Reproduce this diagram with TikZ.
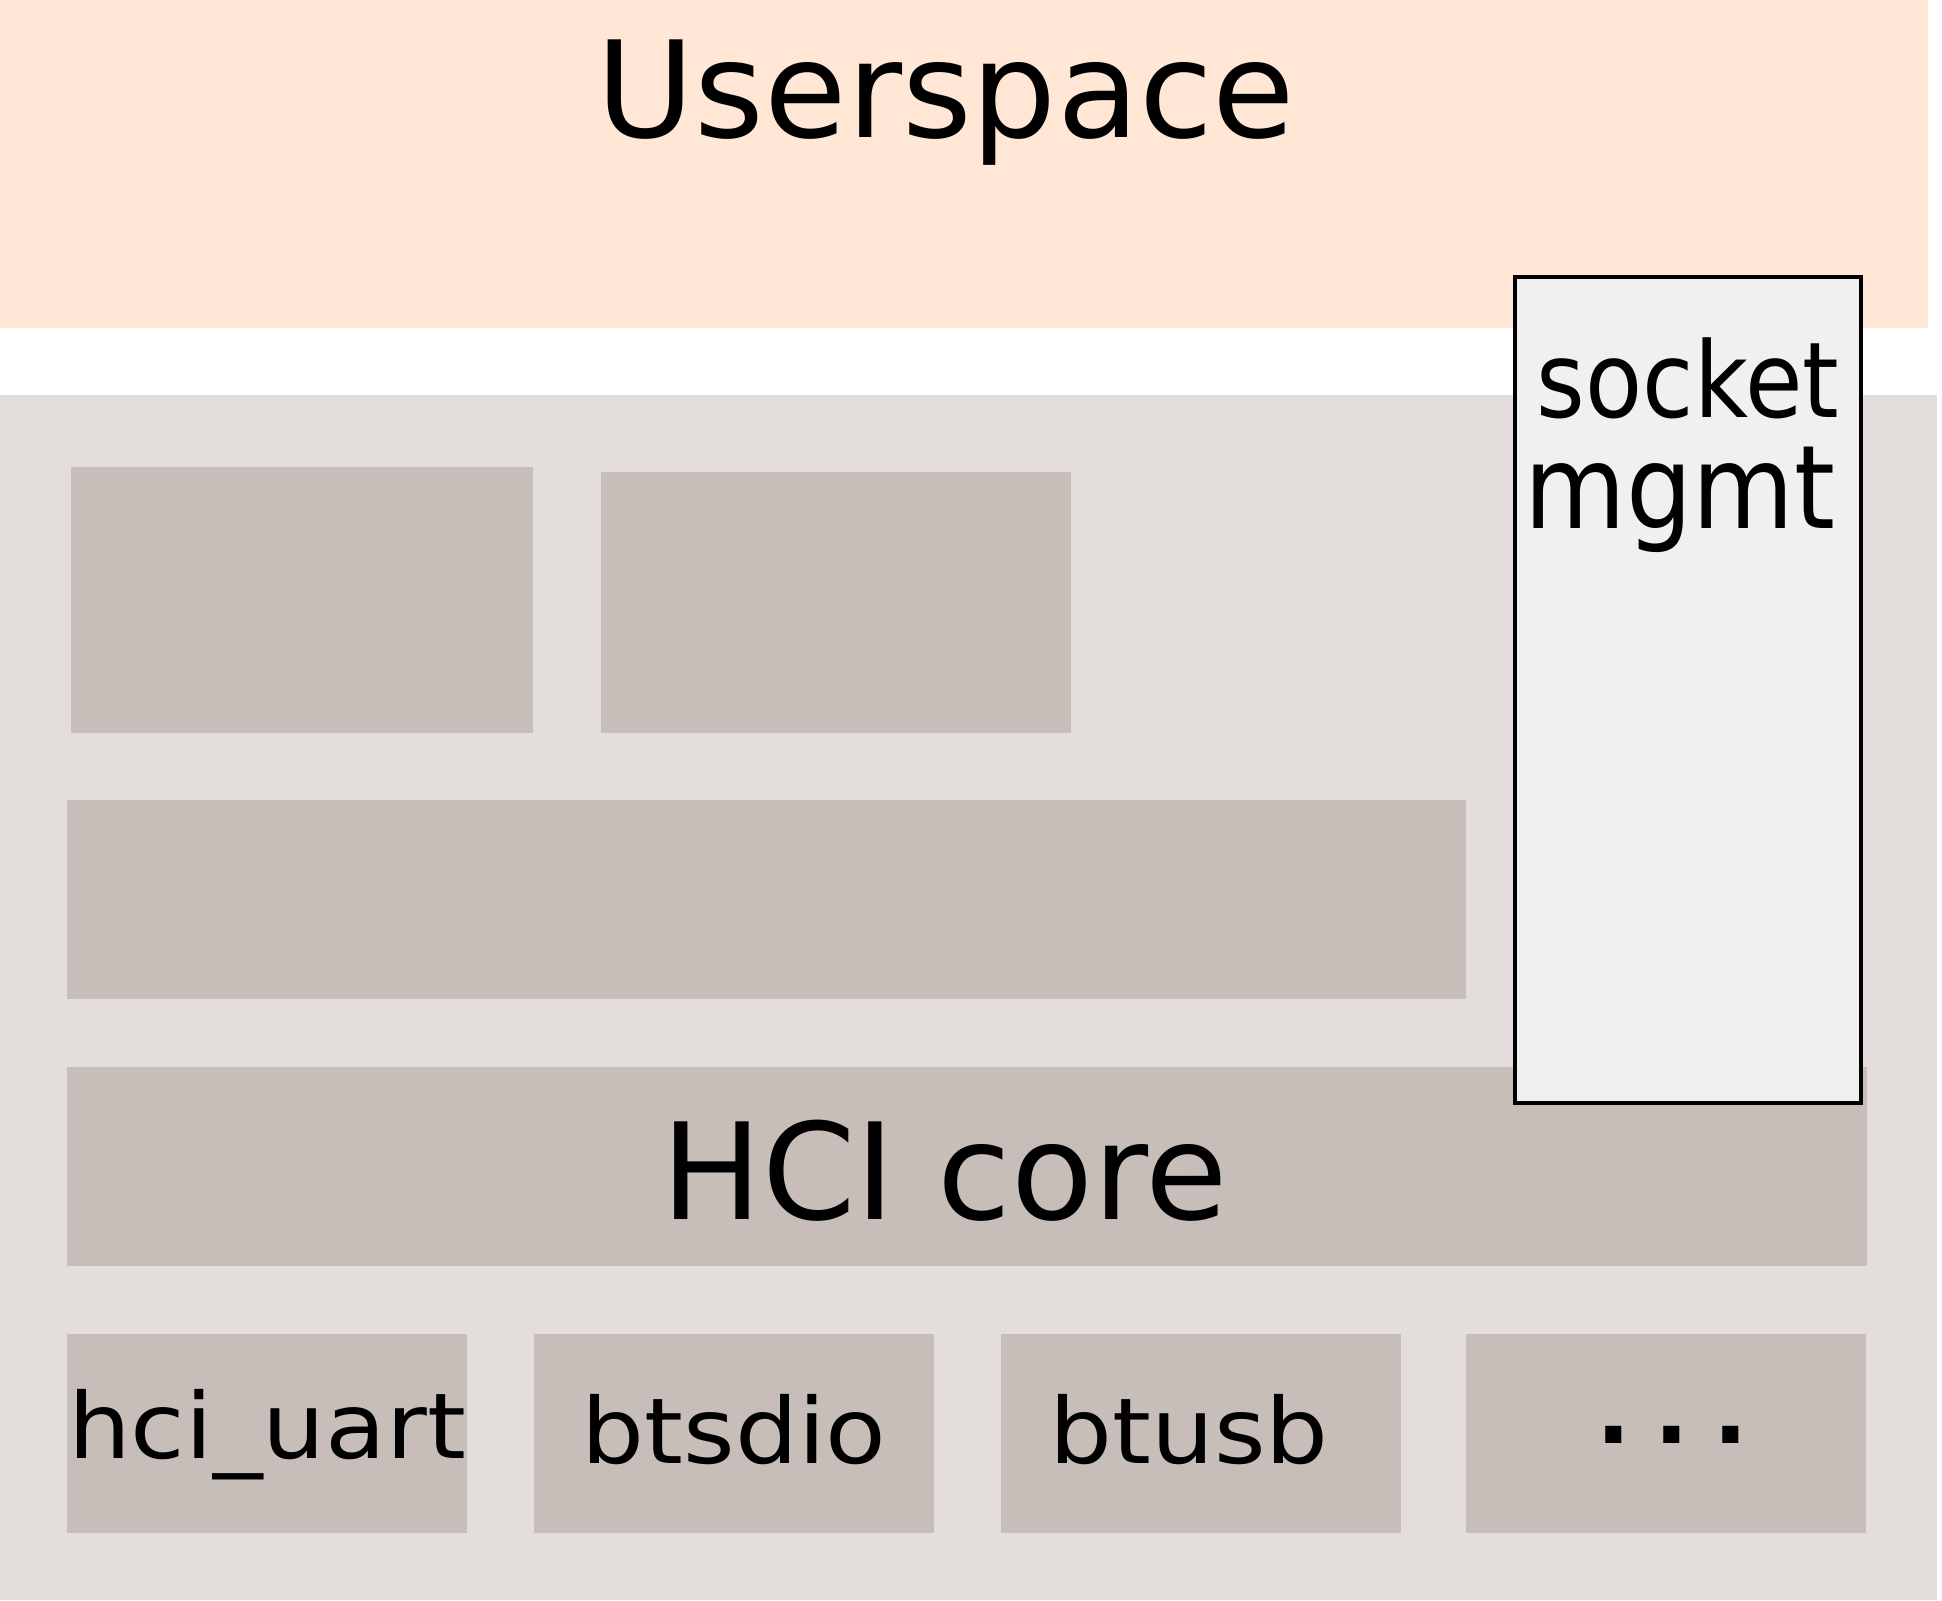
\documentclass[tikz,border=0pt]{standalone}
\usepackage{fontspec}
\setmainfont{DejaVu Sans}
\usepackage{graphicx}
\usetikzlibrary{positioning}

\definecolor{userbg}{HTML}{FFE6D5}
\definecolor{kernbg}{HTML}{E3DEDB}
\definecolor{layerbox}{HTML}{C8BEB9}
\definecolor{mgmtbox}{HTML}{F0F0F0}
\newcommand{\fsz}[1]{\fontsize{#1}{#1}\selectfont}

\begin{document}
\begin{tikzpicture}[x=0.5pt,y=-0.5pt,
		area/.style={inner sep=0pt,outer sep=0pt,anchor=north west},
		layer/.style={area,fill=layerbox},
		drv/.style={layer,minimum width=200pt,minimum height=99.5pt},
		lbl/.style={inner sep=0pt,anchor=base}]
	\useasboundingbox (0,0) rectangle (1942,1600);
	% user and kernel space
	\node[area,fill=userbg,minimum width=964pt,minimum height=164pt] (user) at (0,0) {};
	\node[area,fill=kernbg,minimum width=968.5pt,minimum height=602.5pt] (kern) at (0,395) {};
	% layers
	\node[layer,minimum width=231pt,minimum height=133pt] (proto_a) at (71,467) {};
	\node[layer,minimum width=235pt,minimum height=130.5pt] (proto_b) at (601,472) {};
	\node[layer,minimum width=699.5pt,minimum height=99.5pt] (l2) at (67,800) {};
	\node[layer,minimum width=900pt,minimum height=99.5pt] (hci) at (67,1067) {};
	\node[drv] (drv_uart) at (67,1334) {};
	\node[drv] (drv_sdio) at (534,1334) {};
	\node[drv] (drv_usb) at (1001,1334) {};
	\node[drv] (drv_more) at (1466,1334) {};
	\node[area,fill=mgmtbox,draw=black,line width=1.6pt,minimum width=173pt,minimum height=413pt] (mgmt) at (1515,277) {};
	% labels
	\node[lbl,font=\fsz{67pt}] (user_lbl) at (946,138) {Userspace};
	\node[lbl,font=\fsz{67pt}] (hci_lbl) at (945,1219) {HCI core};
	\node[lbl,font=\fsz{52.5pt}] (sock_lbl) at (1688,417) {\scalebox{0.89}[1]{socket}};
	\node[lbl,font=\fsz{58pt}] (mgmt_lbl) at (1680,528) {\scalebox{0.9}[1]{mgmt}};
	\node[lbl,font=\fsz{45.5pt}] (uart_lbl) at (267,1458) {\scalebox{1.09}[1]{hci\_uart}};
	\node[lbl,font=\fsz{45.5pt}] (sdio_lbl) at (734,1463) {\scalebox{1.09}[1]{btsdio}};
	\node[lbl,font=\fsz{45.5pt}] (usb_lbl) at (1189,1463) {\scalebox{1.09}[1]{btusb}};
	\node[lbl,font=\fsz{45.5pt}\bfseries] (more_lbl) at (1672,1443) {.\hspace{11.9pt}.\hspace{11.9pt}.};
\end{tikzpicture}
\end{document}
